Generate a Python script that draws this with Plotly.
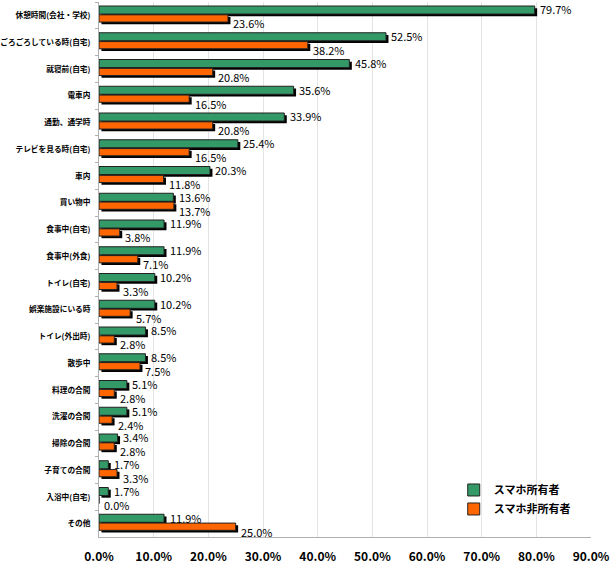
import plotly.graph_objects as go

categories = [
    "休憩時間(会社・学校)", "ごろごろしている時(自宅)", "就寝前(自宅)", "電車内",
    "通勤、通学時", "テレビを見る時(自宅)", "車内", "買い物中", "食事中(自宅)",
    "食事中(外食)", "トイレ(自宅)", "娯楽施設にいる時", "トイレ(外出時)", "散歩中",
    "料理の合間", "洗濯の合間", "掃除の合間", "子育ての合間", "入浴中(自宅)", "その他",
]
owners = [79.7, 52.5, 45.8, 35.6, 33.9, 25.4, 20.3, 13.6, 11.9, 11.9,
          10.2, 10.2, 8.5, 8.5, 5.1, 5.1, 3.4, 1.7, 1.7, 11.9]
non_owners = [23.6, 38.2, 20.8, 16.5, 20.8, 16.5, 11.8, 13.7, 3.8, 7.1,
              3.3, 5.7, 2.8, 7.5, 2.8, 2.4, 2.8, 3.3, 0.0, 25.0]
series_names = ["スマホ所有者", "スマホ非所有者"]
x_ticks = [0, 10, 20, 30, 40, 50, 60, 70, 80, 90]
x_tick_labels = ["0.0%", "10.0%", "20.0%", "30.0%", "40.0%",
                 "50.0%", "60.0%", "70.0%", "80.0%", "90.0%"]

GREEN = "#339966"
ORANGE = "#FF6600"
JP = "Noto Sans CJK JP"
SHADOW_SHIFT = 0.45  # drop shadow shift along x, in axis units

fig = go.Figure()

# shadow bar + main bar for each series (Excel-style drop shadow)
series = [(owners, GREEN, -0.35, 0.30), (non_owners, ORANGE, -0.02, 0.27)]
for (vals, color, off, w), name in zip(series, series_names):
    fig.add_trace(go.Bar(
        y=categories, x=vals, orientation="h", base=SHADOW_SHIFT,
        offset=off + 0.08, width=w, marker=dict(color="black", line_width=0),
        showlegend=False, hoverinfo="skip",
    ))
    fig.add_trace(go.Bar(
        y=categories, x=vals, orientation="h", name=name,
        offset=off, width=w,
        marker=dict(color=color, line=dict(color="#222222", width=1)),
    ))

# value labels: owners a bit above, non-owners a bit below the row centre
for vals, shift in [(owners, 6), (non_owners, -8)]:
    for cat, v in zip(categories, vals):
        fig.add_annotation(
            x=v + SHADOW_SHIFT, y=cat, text=f"{v:.1f}%", showarrow=False,
            xanchor="left", yanchor="middle", xshift=1, yshift=shift,
            font=dict(family=JP, size=11, color="black"),
        )

fig.update_layout(
    width=610, height=570,
    barmode="overlay",
    plot_bgcolor="white", paper_bgcolor="white",
    margin=dict(l=99, r=19, t=2, b=33),
    font=dict(family=JP, color="black"),
    showlegend=True,
    legend=dict(
        x=0.721, y=0.115, xanchor="left", yanchor="top",
        bgcolor="rgba(0,0,0,0)",
        font=dict(family=JP, size=11, color="black", weight="bold"),
        tracegroupgap=0, itemwidth=30,
    ),
    xaxis=dict(
        range=[0, 90], tickvals=x_ticks, ticktext=x_tick_labels,
        showgrid=True, gridcolor="#e4e4e4", gridwidth=1,
        showline=True, linecolor="#b0b0b0", mirror=False,
        ticks="", zeroline=False, automargin=False,
        tickfont=dict(family=JP, size=12, color="black", weight="bold"),
        ticklabelstandoff=9,
    ),
    yaxis=dict(
        range=[len(categories) - 0.5, -0.5], showline=True, linecolor="#b0b0b0",
        ticks="outside", ticklen=3, tickcolor="#b0b0b0", tickson="boundaries",
        automargin=False,
        tickfont=dict(family=JP, size=7.7, color="black", weight="bold"),
        ticklabelstandoff=6,
    ),
)

fig.write_html("out.html", config={"displayModeBar": False},
               post_script="document.body.style.margin = '0';")
